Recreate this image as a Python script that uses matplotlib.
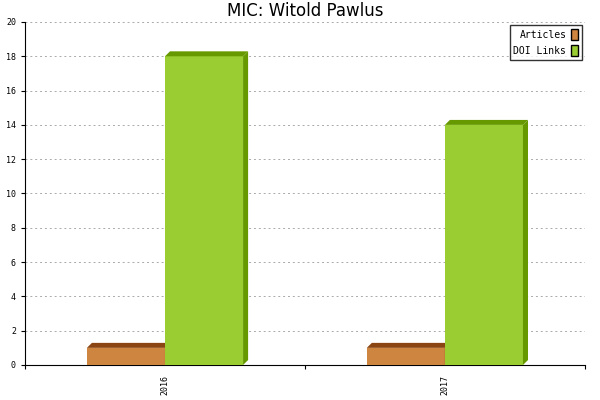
import matplotlib
matplotlib.use('Agg')
import matplotlib.pyplot as plt
from matplotlib.patches import Polygon, Patch

years = ['2016', '2017']
articles = [1, 1]
doi_links = [18, 14]

fig = plt.figure(figsize=(6, 4), dpi=100)
ax = fig.add_axes([0.0417, 0.0875, 0.933, 0.8575])

width = 0.279
dx, dy = 0.018, 0.29

def bar3d(x0, h, front, side):
    # front face
    ax.add_patch(Polygon([(x0, 0), (x0 + width, 0), (x0 + width, h), (x0, h)],
                         closed=True, facecolor=front, edgecolor='none', zorder=3))
    # top face
    ax.add_patch(Polygon([(x0, h), (x0 + width, h), (x0 + width + dx, h + dy), (x0 + dx, h + dy)],
                         closed=True, facecolor=side, edgecolor='none', zorder=3))
    # right face
    ax.add_patch(Polygon([(x0 + width, 0), (x0 + width + dx, dy), (x0 + width + dx, h + dy), (x0 + width, h)],
                         closed=True, facecolor=side, edgecolor='none', zorder=3))

for i in range(len(years)):
    bar3d(i - width, articles[i], '#cd853f', '#8b4513')
    bar3d(i, doi_links[i], '#9acd32', '#669900')

ax.set_xlim(-0.5, 1.5)
ax.set_ylim(0, 20)
ax.set_yticks(range(0, 21, 2))
ax.set_yticklabels([str(v) for v in range(0, 21, 2)], fontsize=6, family='DejaVu Sans Mono')
ax.set_xticks([-0.5, 0.5, 1.5])
ax.set_xticklabels([])
for i, y in enumerate(years):
    ax.text(i, -0.6, y, rotation=90, ha='center', va='top', fontsize=6, family='DejaVu Sans Mono')
ax.tick_params(axis='both', direction='out', length=3)
ax.grid(axis='y', linestyle=(0, (2, 3)), color='#aaaaaa', linewidth=0.7)
ax.set_axisbelow(True)
for s in ['top', 'right']:
    ax.spines[s].set_visible(False)

ax.set_title('MIC: Witold Pawlus', fontsize=12, pad=4)

handles = [Patch(facecolor='#cd853f', edgecolor='black', label='Articles'),
           Patch(facecolor='#9acd32', edgecolor='black', label='DOI Links')]
leg = ax.legend(handles=handles, loc='upper right', markerfirst=False, fancybox=False,
                prop={'family': 'DejaVu Sans Mono', 'size': 7}, handlelength=0.7,
                handleheight=1.4, borderaxespad=0.3, handletextpad=0.5)
leg.get_frame().set_edgecolor('black')

fig.savefig('out.png', dpi=100)
